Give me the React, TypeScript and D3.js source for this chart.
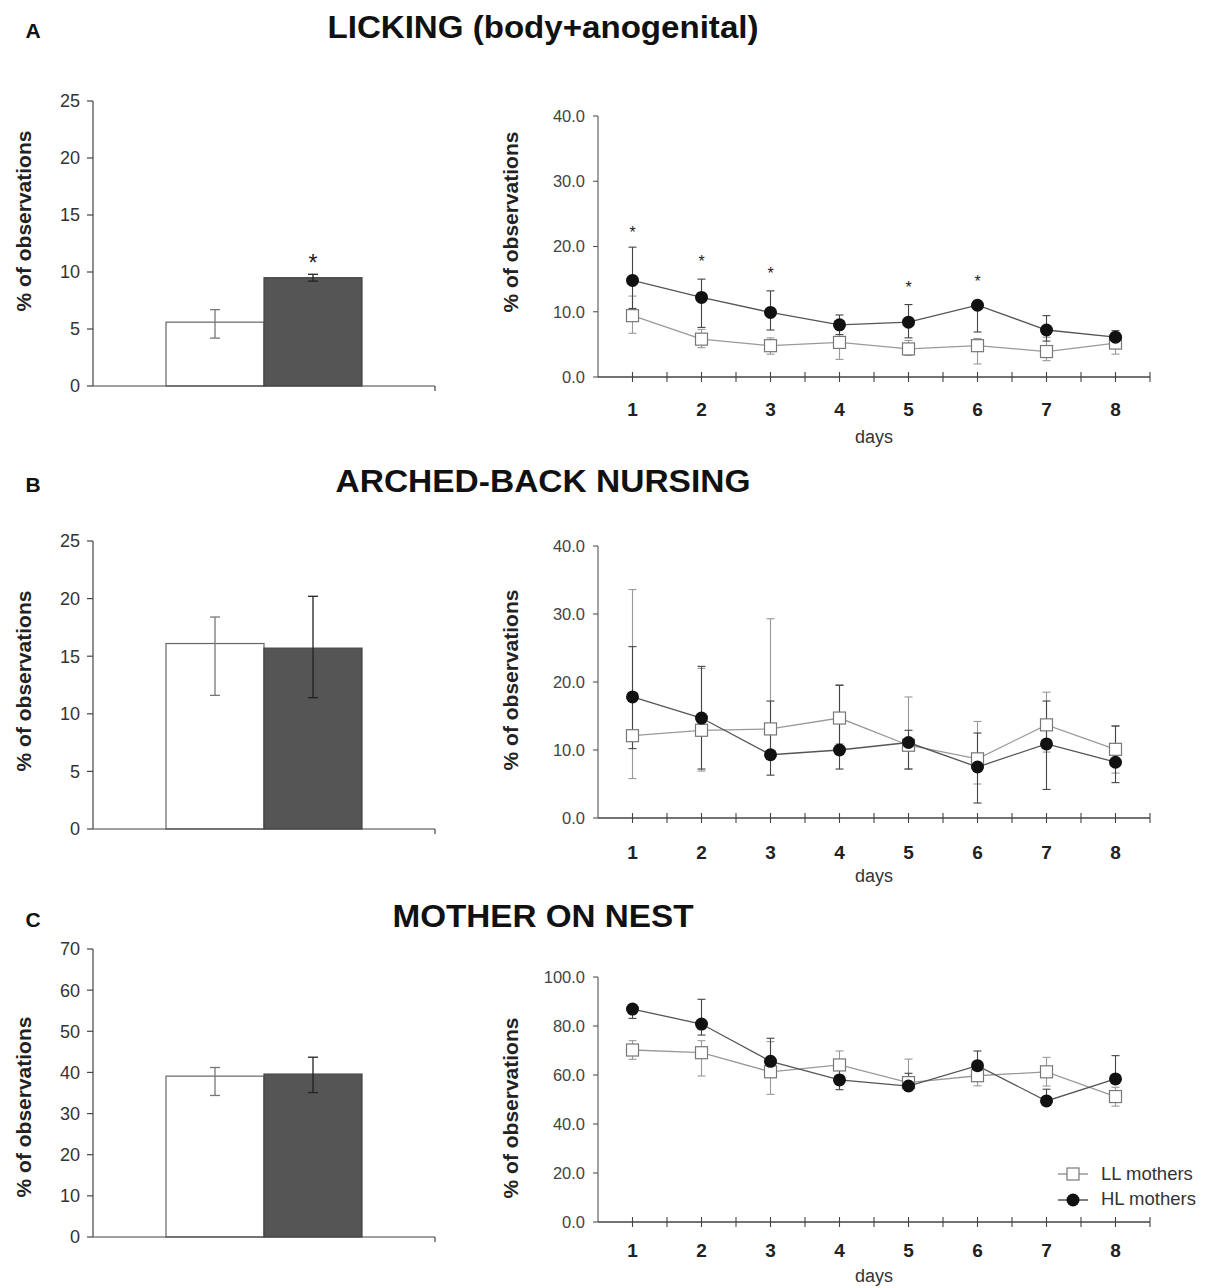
import * as d3 from "d3";
import React from "react";

// ---- data ----
const days = [1, 2, 3, 4, 5, 6, 7, 8];
const groups = ["LL mothers", "HL mothers"];

// A. licking (body+anogenital)
const lickBarMean = [5.6, 9.5];
const lickBarLow = [4.2, 9.2];
const lickBarHigh = [6.7, 9.8];
const lickBarStar = [null, 11.3];
const lickLL = [9.4, 5.8, 4.8, 5.3, 4.3, 4.8, 3.9, 5.2];
const lickLLLow = [6.7, 4.5, 3.5, 2.7, 3.3, 2.0, 2.5, 3.5];
const lickLLHigh = [12.4, 7.3, 6.0, 8.0, 5.6, 5.9, 6.1, 6.8];
const lickHL = [14.8, 12.2, 9.9, 8.0, 8.4, 11.0, 7.2, 6.1];
const lickHLLow = [10.5, 7.6, 7.2, 6.5, 6.0, 6.9, 5.5, 5.2];
const lickHLHigh = [19.9, 15.0, 13.2, 9.5, 11.1, 11.0, 9.4, 7.1];
const lickStars = [22.6, 18.2, 16.3, null, 14.2, 15.1, null, null];

// B. arched-back nursing
const nurseBarMean = [16.1, 15.7];
const nurseBarLow = [11.6, 11.4];
const nurseBarHigh = [18.4, 20.2];
const nurseLL = [12.1, 12.9, 13.1, 14.7, 10.7, 8.7, 13.7, 10.1];
const nurseLLLow = [5.8, 6.9, 9.4, 10.9, 7.2, 5.0, 9.7, 6.6];
const nurseLLHigh = [33.6, 22.0, 29.3, 19.6, 17.8, 14.2, 18.5, 13.6];
const nurseHL = [17.8, 14.7, 9.3, 10.0, 11.1, 7.5, 10.9, 8.2];
const nurseHLLow = [10.2, 7.2, 6.3, 7.2, 7.2, 2.2, 4.2, 5.2];
const nurseHLHigh = [25.2, 22.3, 17.2, 19.5, 12.9, 12.5, 17.2, 13.5];

// C. mother on nest
const nestBarMean = [39.1, 39.6];
const nestBarLow = [34.4, 35.1];
const nestBarHigh = [41.2, 43.7];
const nestLL = [70.2, 69.1, 61.3, 64.1, 56.9, 59.7, 61.3, 51.2];
const nestLLLow = [66.4, 59.6, 52.1, 60.0, 54.5, 55.6, 55.5, 47.3];
const nestLLHigh = [74.0, 74.0, 73.6, 69.8, 66.5, 63.5, 67.2, 55.0];
const nestHL = [86.9, 80.8, 65.6, 58.0, 55.5, 63.8, 49.4, 58.4];
const nestHLLow = [83.1, 76.3, 60.0, 54.0, 53.9, 58.0, 49.4, 58.4];
const nestHLHigh = [86.9, 90.9, 75.0, 62.0, 60.7, 69.8, 54.2, 67.9];

const FONT = "'Liberation Sans', Arial, sans-serif";

const BarPanel = ({ top, bottom, yMax, step, mean, low, high, star, labelY }) => {
  const axisX = 93;
  const endX = 435;
  const y = d3.scaleLinear().domain([0, yMax]).range([bottom, top]);
  const x = d3.scaleBand().domain(groups).range([axisX, endX]).paddingInner(0).paddingOuter(0.745);
  const ticks = d3.range(0, yMax + 0.01, step);
  return (
    <g>
      {/* y axis */}
      <line x1={axisX} x2={axisX} y1={top} y2={bottom} stroke="#444" strokeWidth={1.2} />
      {ticks.map((t) => (
        <g key={t}>
          <line x1={axisX - 6} x2={axisX} y1={y(t)} y2={y(t)} stroke="#444" strokeWidth={1.2} />
          <text x={80} y={y(t)} dy="0.36em" textAnchor="end" fontSize={18} fill="#333">{t}</text>
        </g>
      ))}
      {/* bars */}
      {groups.map((g, i) => (
        <rect key={g} x={x(g)} y={y(mean[i])} width={x.bandwidth()} height={bottom - y(mean[i])}
          fill={i === 0 ? "#fff" : "#555"} stroke={i === 0 ? "#666" : "#444"} strokeWidth={1.2} />
      ))}
      {/* error bars */}
      {groups.map((g, i) => {
        const cx = x(g) + x.bandwidth() / 2;
        const c = i === 0 ? "#777" : "#222";
        return (
          <g key={g} stroke={c} strokeWidth={1.3}>
            <line x1={cx} x2={cx} y1={y(low[i])} y2={y(high[i])} />
            <line x1={cx - 5} x2={cx + 5} y1={y(low[i])} y2={y(low[i])} />
            <line x1={cx - 5} x2={cx + 5} y1={y(high[i])} y2={y(high[i])} />
          </g>
        );
      })}
      {star && star.map((s, i) => s == null ? null : (
        <text key={i} x={x(groups[i]) + x.bandwidth() / 2} y={y(s)} dy="0.6em" textAnchor="middle"
          fontSize={23} fill="#222">*</text>
      ))}
      {/* baseline */}
      <line x1={axisX} x2={endX} y1={bottom} y2={bottom} stroke="#444" strokeWidth={1.2} />
      <line x1={endX} x2={endX} y1={bottom} y2={bottom + 5} stroke="#444" strokeWidth={1.2} />
      <text transform={`translate(31,${labelY}) rotate(-90)`} textAnchor="middle" fontSize={21}
        fontWeight="bold" fill="#222">% of observations</text>
    </g>
  );
};

const LinePanel = ({ top, bottom, yMax, step, ll, llLow, llHigh, hl, hlLow, hlHigh, stars, labelY, tickDy, daysDy, legend }) => {
  const axisX = 598;
  const x = d3.scaleLinear().domain([0.5, 8.5]).range([axisX, 1150]);
  const y = d3.scaleLinear().domain([0, yMax]).range([bottom, top]);
  const yTicks = d3.range(0, yMax + 0.01, step);
  const xTicks = d3.range(1, 8.51, 0.5);
  const line = d3.line<number>().x((d, i) => x(days[i])).y((d) => y(d));
  const errBars = (mean, lo, hi, color, key) => (
    <g key={key} stroke={color} strokeWidth={1.1}>
      {days.map((d, i) => (
        <g key={d}>
          <line x1={x(d)} x2={x(d)} y1={y(lo[i])} y2={y(hi[i])} />
          {lo[i] !== mean[i] && <line x1={x(d) - 4} x2={x(d) + 4} y1={y(lo[i])} y2={y(lo[i])} />}
          {hi[i] !== mean[i] && <line x1={x(d) - 4} x2={x(d) + 4} y1={y(hi[i])} y2={y(hi[i])} />}
        </g>
      ))}
    </g>
  );
  return (
    <g>
      <line x1={axisX} x2={axisX} y1={top} y2={bottom} stroke="#555" strokeWidth={1.1} />
      {yTicks.map((t) => (
        <g key={t}>
          <line x1={axisX - 5} x2={axisX} y1={y(t)} y2={y(t)} stroke="#555" strokeWidth={1.1} />
          <text x={axisX - 13} y={y(t)} dy="0.36em" textAnchor="end" fontSize={16.5} fill="#444">
            {d3.format(".1f")(t)}
          </text>
        </g>
      ))}
      <line x1={axisX} x2={x(8.5)} y1={bottom} y2={bottom} stroke="#444" strokeWidth={1.3} />
      {xTicks.map((t) => (
        <line key={t} x1={x(t)} x2={x(t)} y1={bottom - 5} y2={bottom + 5} stroke="#444" strokeWidth={1.1} />
      ))}
      {days.map((d) => (
        <text key={d} x={x(d)} y={bottom + tickDy} textAnchor="middle" fontSize={19} fontWeight="bold" fill="#222">{d}</text>
      ))}
      <text x={x(4.5)} y={bottom + daysDy} textAnchor="middle" fontSize={18} fill="#333">days</text>
      <text transform={`translate(518,${labelY}) rotate(-90)`} textAnchor="middle" fontSize={21}
        fontWeight="bold" fill="#222">% of observations</text>

      {errBars(ll, llLow, llHigh, "#999", "ll")}
      {errBars(hl, hlLow, hlHigh, "#444", "hl")}
      <path d={line(ll)} fill="none" stroke="#999" strokeWidth={1.3} />
      <path d={line(hl)} fill="none" stroke="#555" strokeWidth={1.3} />
      {ll.map((v, i) => (
        <rect key={i} x={x(days[i]) - 6} y={y(v) - 6} width={12} height={12} fill="#fff" stroke="#777" strokeWidth={1.2} />
      ))}
      {hl.map((v, i) => (
        <circle key={i} cx={x(days[i])} cy={y(v)} r={6.5} fill="#111" />
      ))}
      {stars && stars.map((s, i) => s == null ? null : (
        <text key={i} x={x(days[i])} y={y(s)} dy="0.55em" textAnchor="middle" fontSize={16} fill="#222">*</text>
      ))}
      {legend && (
        <g fontSize={18.5} fill="#333">
          <line x1={1058} x2={1088} y1={1174} y2={1174} stroke="#999" strokeWidth={1.5} />
          <rect x={1067} y={1168} width={12} height={12} fill="#fff" stroke="#777" strokeWidth={1.2} />
          <text x={1101} y={1180}>{groups[0]}</text>
          <line x1={1058} x2={1088} y1={1200} y2={1200} stroke="#555" strokeWidth={1.5} />
          <circle cx={1073} cy={1200} r={6.5} fill="#111" />
          <text x={1101} y={1205}>{groups[1]}</text>
        </g>
      )}
    </g>
  );
};

const Heading = ({ letter, title, y, width }) => (
  <g fontFamily={FONT} fontWeight="bold" fill="#111">
    <text x={33} y={y} textAnchor="middle" fontSize={21}>{letter}</text>
    <text x={543} y={y} textAnchor="middle" fontSize={31} textLength={width} lengthAdjust="spacingAndGlyphs">{title}</text>
  </g>
);

export default function App() {
  return (
    <svg width={1211} height={1288} style={{ position: "absolute", left: 0, top: 0, background: "#fff" }}
      fontFamily={FONT}>
      <rect width={1211} height={1288} fill="#fff" />
      <Heading letter="A" title="LICKING (body+anogenital)" y={38} width={431} />
      <BarPanel top={101} bottom={386} yMax={25} step={5} mean={lickBarMean} low={lickBarLow}
        high={lickBarHigh} star={lickBarStar} labelY={221} />
      <LinePanel top={116} bottom={377} yMax={40} step={10} ll={lickLL} llLow={lickLLLow} llHigh={lickLLHigh}
        hl={lickHL} hlLow={lickHLLow} hlHigh={lickHLHigh} stars={lickStars} labelY={222} tickDy={39} daysDy={66} />

      <Heading letter="B" title="ARCHED-BACK NURSING" y={492} width={415} />
      <BarPanel top={541} bottom={829} yMax={25} step={5} mean={nurseBarMean} low={nurseBarLow}
        high={nurseBarHigh} labelY={681} />
      <LinePanel top={546} bottom={818} yMax={40} step={10} ll={nurseLL} llLow={nurseLLLow} llHigh={nurseLLHigh}
        hl={nurseHL} hlLow={nurseHLLow} hlHigh={nurseHLHigh} labelY={680} tickDy={41} daysDy={64} />

      <Heading letter="C" title="MOTHER ON NEST" y={927} width={301} />
      <BarPanel top={949} bottom={1237} yMax={70} step={10} mean={nestBarMean} low={nestBarLow}
        high={nestBarHigh} labelY={1107} />
      <LinePanel top={977} bottom={1222} yMax={100} step={20} ll={nestLL} llLow={nestLLLow} llHigh={nestLLHigh}
        hl={nestHL} hlLow={nestHLLow} hlHigh={nestHLHigh} labelY={1108} tickDy={35} daysDy={60} legend />
    </svg>
  );
}
